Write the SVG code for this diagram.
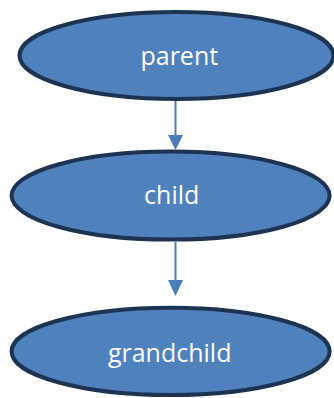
<svg xmlns="http://www.w3.org/2000/svg" width="334" height="398" viewBox="0 0 334 398">
<style>
.node ellipse{fill:#4f81bd;stroke:#1c3452;stroke-width:4}
.node text{fill:#ffffff;font-family:"Open Sans","Noto Sans",sans-serif;font-size:25px;text-anchor:middle}
.edge{stroke:#4a7ebb;stroke-width:2;fill:none}
.head{fill:#4a7ebb}
</style>
<rect width="334" height="398" fill="#ffffff"/>
<g id="connectors">
<line class="edge" x1="175.5" y1="101" x2="175.5" y2="137"/>
<polygon class="head" points="168,135 183,135 175.5,150"/>
<line class="edge" x1="175.5" y1="242" x2="175.5" y2="282"/>
<polygon class="head" points="168,280 183,280 175.5,296"/>
</g>
<g id="parent" class="node">
<ellipse cx="176.5" cy="55.5" rx="157" ry="43.5"/>
<text x="179.3" y="65">parent</text>
</g>
<g id="child" class="node">
<ellipse cx="170.6" cy="195.6" rx="159" ry="44"/>
<text x="171.7" y="204.3">child</text>
</g>
<g id="grandchild" class="node">
<ellipse cx="170.6" cy="351.4" rx="159" ry="43.7"/>
<text x="169.7" y="362">grandchild</text>
</g>
</svg>
